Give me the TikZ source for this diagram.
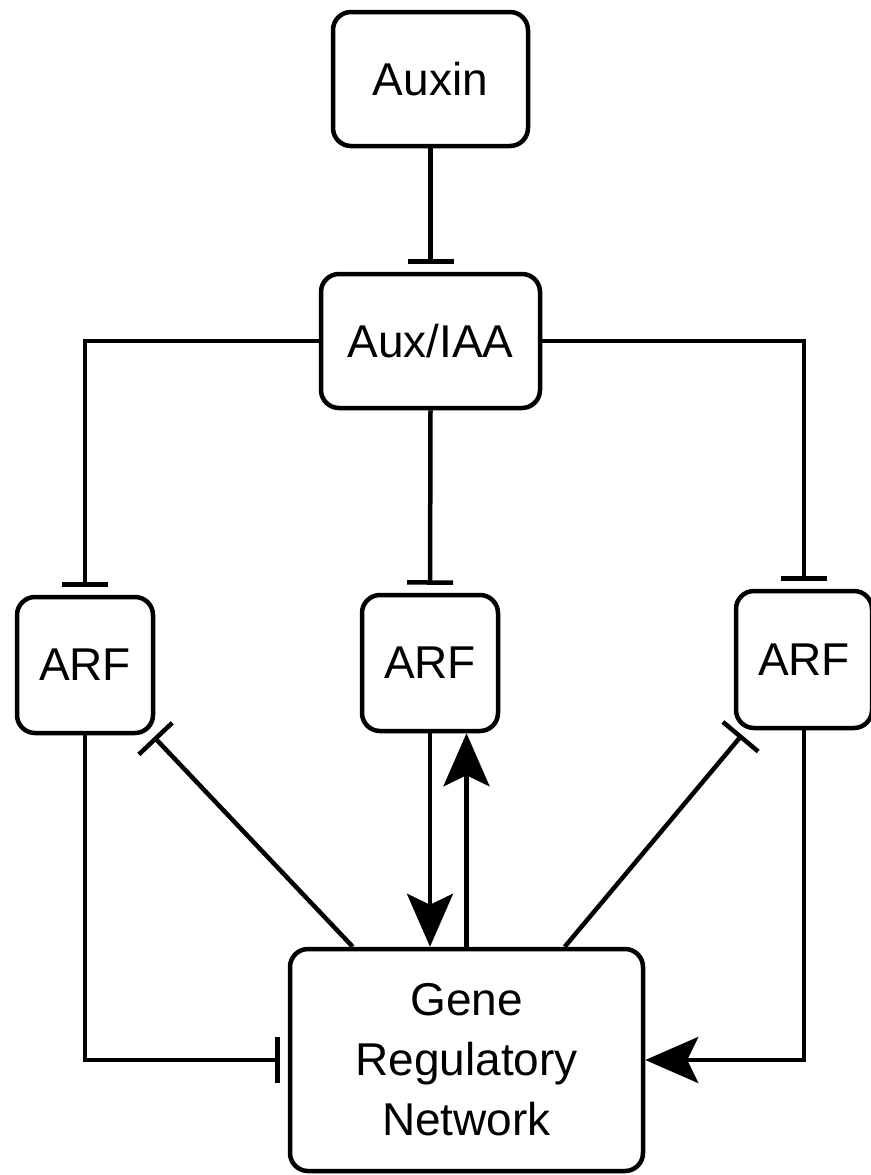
\documentclass[tikz,border=0pt]{standalone}
\usepackage{fontspec}
\setmainfont{Liberation Sans}
\usetikzlibrary{arrows.meta,calc}
\begin{document}
\begin{tikzpicture}[x=1pt,y=-1pt,
  box/.style={draw=black,line width=4.5pt,rounded corners=18pt,fill=white,
    font=\fontsize{46}{60}\selectfont,inner sep=0pt,align=center},
  inh/.style={draw=black,line width=4.5pt,-{Bar[width=46pt]},shorten >=8pt},
  inhd/.style={draw=black,line width=4.5pt,-{Bar[width=46pt]}},
  act/.style={draw=black,line width=4.5pt,-{Stealth[length=53pt,width=46pt,inset=11pt]}}]
\useasboundingbox (0,0) rectangle (870,1175);
\node[box,minimum width=195pt,minimum height=134pt] (auxin) at (430.5,79) {\raisebox{-5pt}{Auxin}};
\node[box,minimum width=219pt,minimum height=134pt] (aux) at (430.5,341) {\raisebox{-5pt}{Aux/IAA}};
\node[box,minimum width=136pt,minimum height=136pt] (arfL) at (85,665) {ARF};
\node[box,minimum width=136pt,minimum height=136pt] (arfM) at (430,663) {ARF};
\node[box,minimum width=136pt,minimum height=137pt] (arfR) at (804,659.5) {ARF};
\node[box,minimum width=353pt,minimum height=222pt] (grn) at (466.5,1060) {Gene\\Regulatory\\Network};
\coordinate (tL) at (154,737);
\coordinate (tR) at (742,735);
\draw[inh] (auxin.south) -- (aux.north);
\draw[inh] (aux.west) -| (arfL.north);
\draw[inh] (aux.south) -- (arfM.north);
\draw[inh] (aux.east) -| (arfR.north);
\draw[inh] (arfL.south) |- (grn.west);
\draw[act] (arfR.south) |- (grn.east);
\draw[act] (arfM.south) -- (arfM.south |- grn.north);
\draw[act] (grn.north) -- (grn.north |- arfM.south);
\draw[inhd] ($(grn.north west)+(65,0)$) -- (tL);
\draw[inhd] ($(grn.north west)+(277,0)$) -- (tR);
\end{tikzpicture}
\end{document}
